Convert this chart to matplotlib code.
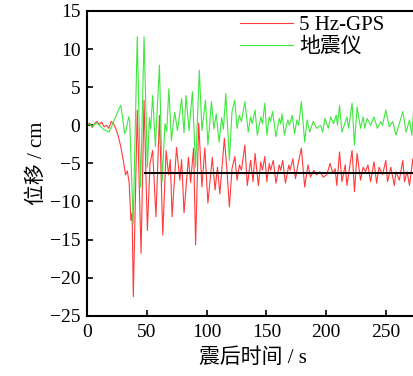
import matplotlib
matplotlib.use('Agg')
import matplotlib.pyplot as plt

# 数据（从图中读取的极值点）
t_gps = [0, 2, 4, 6, 8, 10, 12, 14, 16, 18, 20, 22, 24, 26, 28, 30, 32, 33.5, 35, 36.5,
         37.5, 38.5, 41.8, 45.0, 47.5, 50.3, 52.5, 54.7, 57.5, 60.4, 63.2, 66.0, 68.0, 69.5,
         71.0, 74.7, 77.5, 79.0, 81.0, 84.7, 86.5, 89.0, 90.7, 93.3, 96.0, 98.4, 101.0, 104.7,
         107, 109, 111, 114.8, 117, 119,
         121.2, 123.5, 125.4, 127.4, 129.1, 132, 134, 136.8, 138.8, 140.5, 143.3, 145.3, 146.7,
         148.7, 150.4, 152.4, 153.5, 155.8, 158, 160.8, 162, 163.7, 166, 168.8, 169.9, 172.2,
         174.4, 176.4, 179.3, 182.1, 184.9, 186.9, 189.7, 192, 194.8, 197.7, 200.5, 203.4,
         205.6, 207.6, 209, 211.3, 213.3, 216.1, 217.5, 221.8, 223.8, 226, 228.9, 231.1, 233.1,
         235.1, 237.3, 240.2, 242.4, 244.4, 247.3, 250.1, 251.5, 254.3, 257.2, 258.6, 261.4,
         264.3, 265.7, 267.9, 269.9, 272.7, 274.7, 277.5]
v_gps = [0, 0.3, -0.3, 0.2, 0.5, 0.1, 0.4, -0.2, 0.0, -0.4, 0.5, 0.2, -0.5, -1.5, -2.8, -4.5,
         -6.5, -6.0, -7.5, -12.5, -11.5, -22.5, 2.0, -16.8, 3.3, -13.8, -5.0, -3.3, -12.0, 1.3,
         -14.4, -3.3, -6.5, -4.5, -12.0, -2.9, -7.2, -4.5, -11.5, -4.2, -7.5, -3.0, -15.7, 0.3,
         -8.1, -3.0, -10.2, -4.2, -8.5, -5.5, -9.0, -1.7, -6.0, -10.7,
         -5.7, -4.1, -7.2, -5.2, -5.9, -2.6, -7.9, -4.6, -7.4, -3.7, -7.9, -4.8, -5.9,
         -4.1, -7.4, -5.0, -5.9, -4.6, -7.6, -5.2, -5.9, -4.6, -7.6, -5.2, -5.9, -4.4,
         -7.0, -5.2, -3.0, -8.1, -5.2, -6.8, -5.9, -6.5, -6.1, -6.8, -6.5, -5.0,
         -6.3, -5.7, -7.9, -3.5, -7.4, -5.2, -7.9, -3.3, -8.7, -3.7, -7.2, -5.5, -6.1,
         -5.2, -7.4, -4.8, -7.6, -5.5, -6.5, -4.6, -7.4, -5.5, -7.9, -6.1, -7.2,
         -4.6, -7.4, -6.1, -7.9, -4.4, -7.6, -6.3]

t_seis = [0, 2, 4, 6, 8, 10, 12, 14, 16, 18, 20, 22, 24, 26, 28, 29.5, 31.2, 32.5, 34.6, 35.5,
          38.4, 41.8, 44.6, 47.5, 50.3, 52, 53, 54.7, 57, 60.4, 62.7, 65.0, 66.5, 68.3, 70.4,
          73.2, 75.5, 79.0, 81, 82.7, 85.2, 88.0, 90.7, 93.8, 96.0, 99.0, 101.0, 104.0, 106, 108,
          110.4, 112.5, 114, 116, 119,
          121.2, 123.5, 125.4, 127.4, 129.1, 132, 134.8, 136.8, 138.2, 140.5, 142.4, 145.3,
          146.7, 148.7, 150.4, 152.4, 153.5, 155.2, 158, 160.8, 162, 163.1, 165.1, 167.9, 169.3,
          171.6, 173.6, 175.6, 177, 179.3, 182.1, 184.1, 186.3, 189.2, 192, 195.4, 197.1, 199.1,
          201.9, 203.9, 206.2, 208.5, 209.6, 211.3, 213.3, 217.5, 218.9, 221.8, 223.8, 226,
          228.9, 231.1, 232.3, 234.5, 237.3, 240.2, 243, 245.8, 247.3, 250.1, 252.9, 255.8,
          258.6, 264.3, 267.1, 269.9, 271.9, 273.6, 276.4, 277.6]
v_seis = [0, 0.2, -0.2, 0.1, 0.3, 0, -0.3, -0.6, -0.7, -0.9, -0.3, 0.5, 1.2, 2.0, 2.6, 1.0,
          -1.1, -0.6, 1.1, 0.5, -12.9, 11.6, -8.1, 11.6, -5.5, 1.0, -0.5, 3.9, -2.8, 7.9, -7.4,
          0.2, -0.8, 4.8, -2.0, 1.7, -0.7, 3.5, -1.0, 3.9, -0.7, 4.4, -5.5, 7.2, -0.7, 3.3, -2.6,
          3.1, -0.5, 1.5, -2.2, 1.0, -0.5, 4.2, -4.6,
          1.8, 3.3, -0.4, 1.3, 0.5, 3.1, -0.9, 1.1, 0.2, 2.0, -1.3, 1.1,
          0.2, 2.9, -1.3, 1.1, 0.5, 1.8, -1.5, 0.9, 0.2, 1.5, -1.3, 0.7, 0.0,
          1.3, -1.1, 0.7, 0.0, 3.1, -2.2, 0.7, -0.9, 0.5, -0.4, 0.0, -0.9, 0.9,
          -0.4, 1.1, 0.2, 1.3, 0.0, 2.6, -0.9, 1.1, -0.4, 2.9, -2.6, 2.4,
          -0.4, 1.1, -0.4, 0.9, 0.0, 1.1, -0.4, 0.5, 0.0, 2.0, -0.2, 0.5,
          -1.3, 1.8, -0.9, 0.7, -1.3, 2.6, -1.3, 0.0]

# 永久位移参考线
perm_t = [48, 280]
perm_v = [-6.3, -6.3]

plt.rcParams['font.family'] = ['Liberation Serif', 'Noto Sans CJK SC']
plt.rcParams['axes.unicode_minus'] = True

fig = plt.figure(figsize=(4.14, 3.76), dpi=100)
ax = fig.add_axes([0.211, 0.16, 0.80, 0.811])

ax.plot(t_gps, v_gps, color='#ff3b3b', linewidth=0.8, label='5 Hz-GPS')
ax.plot(t_seis, v_seis, color='#3ee83e', linewidth=0.8, label='地震仪')
ax.plot(perm_t, perm_v, color='black', linewidth=1.4)

ax.set_xlim(0, 277.5)
ax.set_ylim(-25, 15)
ax.set_xticks([0, 50, 100, 150, 200, 250])
ax.set_yticks(range(-25, 16, 5))
ax.tick_params(direction='in', length=4, width=1.2, labelsize=14, pad=5)
ax.tick_params(axis='x', pad=6)
for s in ['left', 'bottom', 'top']:
    ax.spines[s].set_linewidth(1.5)
ax.spines['right'].set_visible(False)

ax.set_xlabel('震后时间 / s', fontsize=15, labelpad=5)
ax.set_ylabel('位移 / cm', fontsize=15, labelpad=2)

ax.legend(loc='upper left', bbox_to_anchor=(0.46, 0.985), frameon=False, fontsize=15,
          handlelength=2.55, handletextpad=0.3, labelspacing=0.12, borderpad=0, borderaxespad=0)

fig.savefig('out.png', dpi=100)
